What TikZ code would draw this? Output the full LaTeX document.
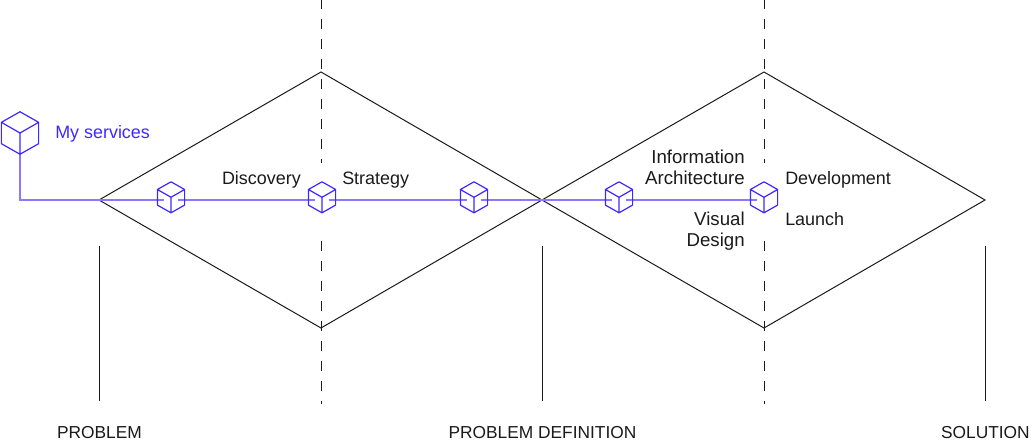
\documentclass[tikz,border=0pt]{standalone}
\usepackage{fontspec}
\setmainfont{Liberation Sans}
\definecolor{cubeblue}{HTML}{3F28FF}
\definecolor{linkblue}{HTML}{8A78FF}
\definecolor{inkdark}{HTML}{1A1A1A}
\tikzset{
  diamondline/.style={draw=inkdark,line width=0.75pt,line join=miter},
  axisdash/.style={draw=inkdark,line width=0.75pt,dash pattern=on 7.5pt off 7.5pt},
  axisline/.style={draw=inkdark,line width=0.75pt},
  link/.style={draw=linkblue,line width=1.6pt},
  gapnode/.style={inner sep=0pt,minimum width=9.5pt,minimum height=9.5pt},
  lbl/.style={inner sep=0pt,text=inkdark,font=\fontsize{13.45}{16.2}\selectfont},
  widelbl/.style={lbl,font=\fontsize{14}{15.75}\selectfont},
  caplbl/.style={lbl,font=\fontsize{13}{16.2}\selectfont},
  cube/.pic={
    \draw[cubeblue,line width=0.9pt,line join=round,pic actions]
      (0,-15.5)--(13.6,-7.8)--(13.6,7.8)--(0,15.5)--(-13.6,7.8)--(-13.6,-7.8)--cycle
      (-13.6,-7.8)--(0,0)--(13.6,-7.8) (0,0)--(0,15.5);
  }
}
\begin{document}
\begin{tikzpicture}[x=0.75pt,y=-0.75pt]
\useasboundingbox (0,0) rectangle (1031,445);
% diamonds
\coordinate (dl) at (99,200);
\coordinate (dm) at (542,200);
\coordinate (dr) at (985,200);
\coordinate (t1) at (321,72);
\coordinate (b1) at (321,328);
\coordinate (t2) at (764,72);
\coordinate (b2) at (764,328);
\draw[diamondline] (dl)--(t1)--(dm)--(b1)--cycle;
\draw[diamondline] (dm)--(t2)--(dr)--(b2)--cycle;
% dashed axes
\coordinate (u1a) at (321,-1); \coordinate (u1b) at (321,163);
\coordinate (l1a) at (321,241); \coordinate (l1b) at (321,404);
\coordinate (u2a) at (764,-1); \coordinate (u2b) at (764,163);
\coordinate (l2a) at (764,241); \coordinate (l2b) at (764,404);
\draw[axisdash] (u1a)--(u1b);
\draw[axisdash] (l1a)--(l1b);
\draw[axisdash] (u2a)--(u2b);
\draw[axisdash] (l2a)--(l2b);
% solid axes
\coordinate (a1) at (99,246); \coordinate (a1e) at (99,401);
\coordinate (a2) at (542,246); \coordinate (a2e) at (542,401);
\coordinate (a3) at (985,246); \coordinate (a3e) at (985,401);
\draw[axisline] (a1)--(a1e);
\draw[axisline] (a2)--(a2e);
\draw[axisline] (a3)--(a3e);
% connector
\node[gapnode] (c1) at (171,199.7) {};
\node[gapnode] (c2) at (322,199.7) {};
\node[gapnode] (c3) at (474,199.7) {};
\node[gapnode] (c4) at (619,199.7) {};
\node[gapnode] (c5) at (764,199.7) {};
\coordinate (m0) at (20,154);
\coordinate (m1) at (20,199.7);
\draw[link] (m0)--(m1)--(c1);
\draw[link] (c1)--(c2);
\draw[link] (c2)--(c3);
\draw[link] (c3)--(c4);
\draw[link] (c4)--(c5);
% cubes
\path (20,133) pic[scale=1.37] {cube};
\path (171,197.3) pic {cube};
\path (322,197.3) pic {cube};
\path (474,197.3) pic {cube};
\path (619,197.3) pic {cube};
\path (764,197.3) pic {cube};
% labels
\node[lbl,text=cubeblue,anchor=west] (ms) at (55,133.5) {My services};
\node[lbl,anchor=east] (dis) at (301,180) {Discovery};
\node[lbl,anchor=west] (str) at (342,180) {Strategy};
\node[widelbl,anchor=east,align=right] (ia) at (745,167.5) {Information\\Architecture};
\node[widelbl,anchor=east,align=right] (vd) at (745,231) {Visual\\Design};
\node[lbl,anchor=west] (dev) at (785,180) {Development};
\node[lbl,anchor=west] (lau) at (785,219) {Launch};
\node[caplbl] (p1) at (99.5,433) {PROBLEM};
\node[caplbl] (p2) at (542.5,433) {PROBLEM DEFINITION};
\node[caplbl,anchor=east] (p3) at (1030,433) {SOLUTION};
\end{tikzpicture}
\end{document}
